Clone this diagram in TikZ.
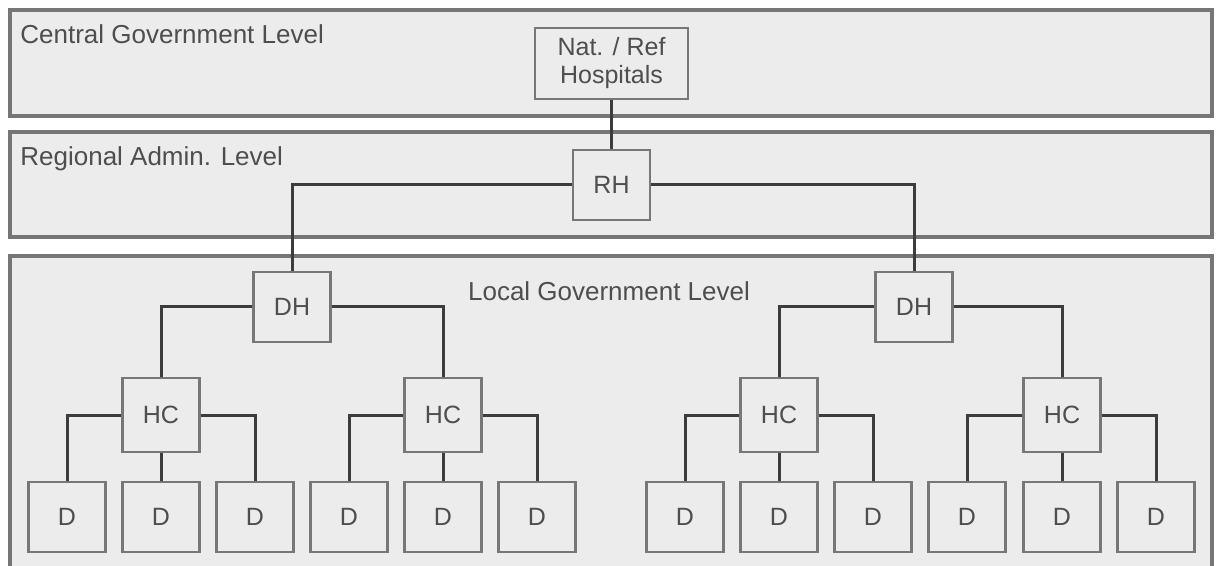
\documentclass[tikz,border=0pt]{standalone}
\usepackage{fontspec}
\setmainfont{Liberation Sans}
\definecolor{bandline}{HTML}{767676}
\definecolor{bandfill}{HTML}{ECECEC}
\definecolor{boxline}{HTML}{777777}
\definecolor{linkcol}{HTML}{3C3C3C}
\definecolor{txt}{HTML}{4E4E4E}
\begin{document}
\begin{tikzpicture}[x=0.5pt,y=-0.5pt,
  band/.style={draw=bandline, fill=bandfill, line width=1.6pt},
  unit/.style={draw=boxline, fill=bandfill, line width=1.4pt,
    minimum width=38.5pt, minimum height=35pt, inner sep=0pt,
    text=txt, font=\fontsize{12.5}{14}\selectfont, align=center},
  link/.style={draw=linkcol, line width=1.5pt},
  lvl/.style={text=txt, font=\fontsize{13}{14}\selectfont, inner sep=0pt}]
\clip (0,0) rectangle (1219,566);

% administrative levels
\path[band] (10,10) rectangle (1212,116);
\path[band] (10,132) rectangle (1212,237);
\path[band] (10,256) rectangle (1212,620);

\node[lvl, anchor=base west] (lc) at (20,44) {Central Government Level};
\node[lvl, anchor=base west] (lr) at (20,166) {Regional Admin. Level};
\node[lvl, anchor=base] (ll) at (609,300) {Local Government Level};

% facilities
\node[unit, minimum width=76.5pt, minimum height=35.5pt] (nat) at (611.5,63.5) {Nat. / Ref\\Hospitals};
\node[unit] (rh) at (611.5,185) {RH};
\node[unit] (dh1) at (292,307) {DH};
\node[unit] (dh2) at (914,307) {DH};

\node[unit, minimum height=37pt] (hc1) at (161,415) {HC};
\node[unit, minimum height=37pt] (hc2) at (443,415) {HC};
\node[unit, minimum height=37pt] (hc3) at (779,415) {HC};
\node[unit, minimum height=37pt] (hc4) at (1062,415) {HC};

\foreach \i/\x in {1/67,2/161,3/255,4/349,5/443,6/537,7/685,8/779,9/873,10/967,11/1062,12/1156}
  \node[unit] (d\i) at (\x,517) {D};

% reporting lines
\draw[link] (nat) -- (rh);
\draw[link] (rh.west) -| (dh1.north);
\draw[link] (rh.east) -| (dh2.north);
\draw[link] (dh1.west) -| (hc1.north);
\draw[link] (dh1.east) -| (hc2.north);
\draw[link] (dh2.west) -| (hc3.north);
\draw[link] (dh2.east) -| (hc4.north);

\draw[link] (hc1.west) -| (d1.north);
\draw[link] (hc1) -- (d2);
\draw[link] (hc1.east) -| (d3.north);
\draw[link] (hc2.west) -| (d4.north);
\draw[link] (hc2) -- (d5);
\draw[link] (hc2.east) -| (d6.north);
\draw[link] (hc3.west) -| (d7.north);
\draw[link] (hc3) -- (d8);
\draw[link] (hc3.east) -| (d9.north);
\draw[link] (hc4.west) -| (d10.north);
\draw[link] (hc4) -- (d11);
\draw[link] (hc4.east) -| (d12.north);
\end{tikzpicture}
\end{document}
